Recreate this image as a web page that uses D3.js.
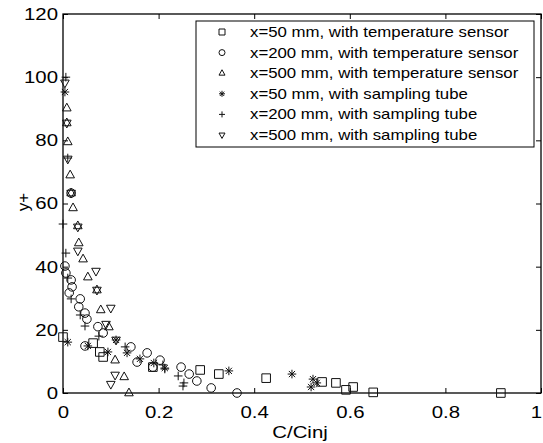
<!DOCTYPE html>
<html>
<head>
<meta charset="utf-8">
<script src="https://cdn.jsdelivr.net/npm/d3@7/dist/d3.min.js"></script>
<style>
  body { margin: 0; background: #fff; }
  text { font-family: "Liberation Sans", Arial, Helvetica, sans-serif; fill: #000; }
</style>
</head>
<body>
<div class="chart"></div>
<script>
// tick values
var xTicks = [0, 0.2, 0.4, 0.6, 0.8, 1];
var yTicks = [0, 20, 40, 60, 80, 100, 120];

// legend labels, one per series
var seriesNames = [
  "x=50 mm, with temperature sensor",
  "x=200 mm, with temperature sensor",
  "x=500 mm, with temperature sensor",
  "x=50 mm, with sampling tube",
  "x=200 mm, with sampling tube",
  "x=500 mm, with sampling tube"
];
var seriesShapes = ["square", "circle", "triUp", "star", "plus", "triDown"];

// [C/Cinj, y+]
var temp50 = [[0, 17.7], [0.063, 15.8], [0.077, 13], [0.084, 11.4], [0.188, 8.2], [0.287, 7.3],
  [0.326, 6.0], [0.425, 4.7], [0.542, 3.5], [0.571, 3.2], [0.592, 1.0], [0.607, 1.9],
  [0.649, 0.2], [0.916, 0]];
var temp200 = [[0.017, 63.3], [0.004, 40.2], [0.006, 38], [0.017, 35.8], [0.019, 33.6], [0.013, 31.7],
  [0.036, 29.8], [0.033, 27.3], [0.046, 25.3], [0.05, 23.4], [0.073, 21], [0.084, 19],
  [0.046, 14.9], [0.142, 14.6], [0.176, 12.7], [0.155, 9.8], [0.203, 10.4], [0.188, 8.2],
  [0.247, 8.2], [0.264, 6.0], [0.28, 3.8], [0.31, 1.6], [0.364, 0]];
var temp500 = [[0.008, 90.2], [0.008, 85.5], [0.01, 79.5], [0.015, 69], [0.017, 63.3], [0.021, 58.6],
  [0.031, 52.9], [0.033, 47.5], [0.042, 42.4], [0.052, 36.7], [0.071, 32.6], [0.079, 26.3],
  [0.096, 20.9], [0.109, 10.4], [0.128, 5.1], [0.138, 0]];
var tube50 = [[0.004, 95.3], [0.01, 16.1], [0.052, 14.9], [0.094, 13], [0.111, 16.8], [0.134, 12.7],
  [0.161, 10.8], [0.19, 9.5], [0.213, 7.9], [0.347, 7.0], [0.479, 6.0], [0.523, 4.4],
  [0.531, 3.2], [0.519, 1.9]];
var tube200 = [[0.006, 100], [0.01, 74.4], [0, 53.5], [0.006, 44.3], [0.01, 36.4], [0.017, 29.8],
  [0.036, 24.7], [0.046, 21.2], [0.075, 18], [0.13, 14.6], [0.209, 8.9], [0.213, 7.6],
  [0.241, 5.4], [0.253, 3.2], [0.251, 2.2]];
var tube500 = [[0.004, 98.2], [0.008, 85.5], [0.01, 74.1], [0.017, 63.3], [0.031, 52.6], [0.031, 45],
  [0.069, 38.6], [0.071, 32.6], [0.1, 26.9], [0.09, 21.8], [0.111, 16.8], [0.109, 5.7],
  [0.1, 2.8]];

var allSeries = [temp50, temp200, temp500, tube50, tube200, tube500];

// the scanned figure is a bit wider than tall, so text is stretched a little
var sx = 1.2;

function markerPath(shape, s) {
  var p = d3.path();
  if (shape == "square") {
    p.rect(-s, -s, 2 * s, 2 * s);
  } else if (shape == "circle") {
    p.moveTo(s, 0);
    p.arc(0, 0, s, 0, 2 * Math.PI);
  } else if (shape == "triUp") {
    p.moveTo(0, -1.15 * s); p.lineTo(s, 0.65 * s); p.lineTo(-s, 0.65 * s); p.closePath();
  } else if (shape == "triDown") {
    p.moveTo(0, 1.15 * s); p.lineTo(s, -0.65 * s); p.lineTo(-s, -0.65 * s); p.closePath();
  } else if (shape == "plus") {
    p.moveTo(-s, 0); p.lineTo(s, 0); p.moveTo(0, -s); p.lineTo(0, s);
  } else if (shape == "star") {
    var d = s * 0.72;
    p.moveTo(-s, 0); p.lineTo(s, 0); p.moveTo(0, -s); p.lineTo(0, s);
    p.moveTo(-d, -d); p.lineTo(d, d); p.moveTo(-d, d); p.lineTo(d, -d);
  }
  return p.toString();
}

var svg = d3.select(".chart").append("svg")
  .attr("width", 543)
  .attr("height", 443);

var x = d3.scaleLinear().domain([0, 1]).range([63, 541]);
var y = d3.scaleLinear().domain([0, 120]).range([393, 14]);

// axes, ticks pointing inward
function styleAxis(g) {
  g.select(".domain").remove();
  g.selectAll(".tick line").attr("stroke", "#000").attr("stroke-width", 1);
}

var fmtX = function(d) { return d == 0 || d == 1 ? d3.format("d")(d) : d3.format(".1f")(d); };

svg.append("g")
  .attr("transform", "translate(0,393)")
  .call(d3.axisBottom(x).tickValues(xTicks).tickFormat(fmtX).tickSize(-5).tickPadding(13))
  .call(styleAxis)
  .selectAll("text")
  .attr("font-size", 17)
  // last label would run off the page edge, nudge it in
  .attr("x", d => d == 1 ? -5 / sx : 0)
  .attr("transform", "scale(" + sx + ",1)");

svg.append("g")
  .attr("transform", "translate(0,14)")
  .call(d3.axisTop(x).tickValues(xTicks).tickFormat("").tickSize(-5))
  .call(styleAxis);

svg.append("g")
  .attr("transform", "translate(63,0)")
  .call(d3.axisLeft(y).tickValues(yTicks).tickSize(-5).tickPadding(0))
  .call(styleAxis)
  .selectAll("text")
  .attr("font-size", 17)
  .attr("x", -5 / sx)
  .attr("transform", "scale(" + sx + ",1)");

svg.append("g")
  .attr("transform", "translate(541,0)")
  .call(d3.axisRight(y).tickValues(yTicks).tickFormat("").tickSize(-5))
  .call(styleAxis);

// frame
svg.append("rect")
  .attr("x", x(0)).attr("y", y(120))
  .attr("width", x(1) - x(0)).attr("height", y(0) - y(120))
  .attr("fill", "none").attr("stroke", "#000").attr("stroke-width", 1.3);

// data markers
allSeries.forEach(function(data, i) {
  svg.append("g").selectAll("path")
    .data(data)
    .enter()
    .append("path")
    .attr("transform", d => "translate(" + x(d[0]) + "," + y(d[1]) + ")")
    .attr("d", markerPath(seriesShapes[i], 4.3))
    .attr("fill", "none")
    .attr("stroke", "#111")
    .attr("stroke-width", 1);
});

// axis labels
svg.append("text")
  .attr("transform", "translate(300,438) scale(" + sx + ",1)")
  .attr("text-anchor", "middle")
  .attr("font-size", 17)
  .text("C/Cinj");

svg.append("text")
  .attr("transform", "translate(29,202) rotate(-90)")
  .attr("text-anchor", "middle")
  .attr("font-size", 17)
  .text("y+");

// legend
var legend = svg.append("g");
legend.append("rect")
  .attr("x", 196).attr("y", 21)
  .attr("width", 338).attr("height", 126)
  .attr("fill", "#fff").attr("stroke", "#000").attr("stroke-width", 1);

seriesNames.forEach(function(name, i) {
  var cy = 32 + i * 20.6;
  legend.append("path")
    .attr("transform", "translate(222," + cy + ")")
    .attr("d", markerPath(seriesShapes[i], 3))
    .attr("fill", "none")
    .attr("stroke", "#111")
    .attr("stroke-width", 1);
  legend.append("text")
    .attr("transform", "translate(250," + (cy + 5) + ") scale(" + sx + ",1)")
    .attr("font-size", 14)
    .text(name);
});
</script>
</body>
</html>
